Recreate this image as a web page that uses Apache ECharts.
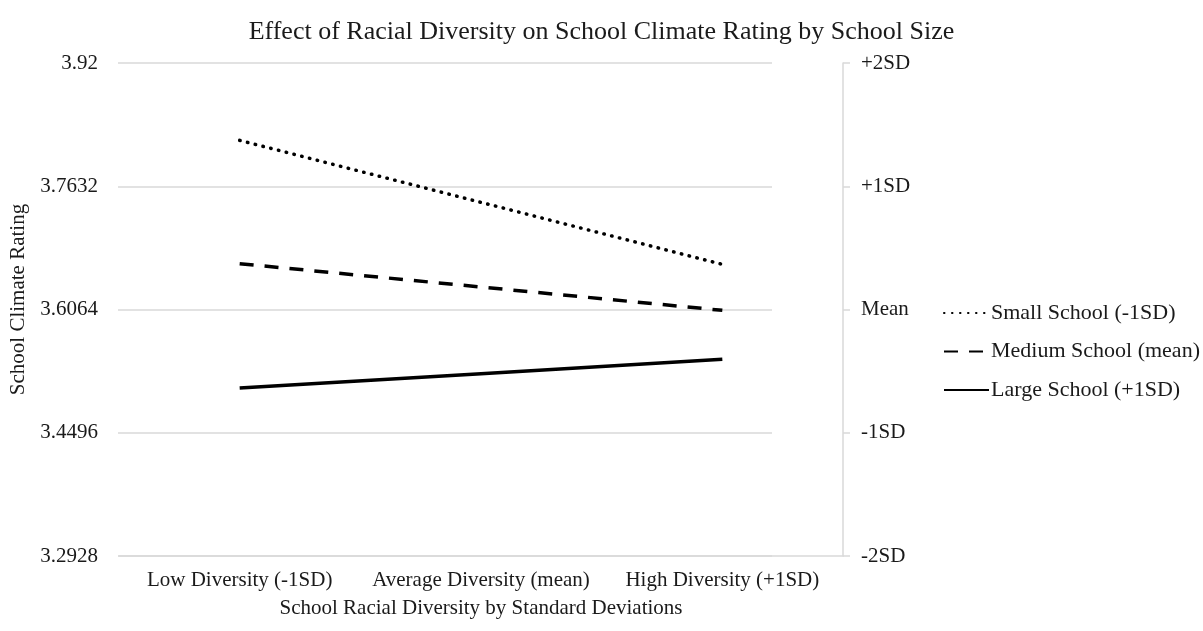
<!DOCTYPE html>
<html>
<head>
<meta charset="utf-8">
<script src="https://cdn.jsdelivr.net/npm/echarts@6/dist/echarts.min.js"></script>
<style>
html, body { margin: 0; padding: 0; background: #fff; }
#chart { width: 1203px; height: 631px; }
</style>
</head>
<body>
<div id="chart"></div>
<script>
// categories along the x axis
var categories = ['Low Diversity (-1SD)', 'Average Diversity (mean)', 'High Diversity (+1SD)']
// left axis tick labels, bottom to top
var leftTicks = ['3.2928', '3.4496', '3.6064', '3.7632', '3.92']
// right axis labels, bottom to top
var rightTicks = ['-2SD', '-1SD', 'Mean', '+1SD', '+2SD']
// series values
var smallSchool = [3.8216, 3.7427, 3.6638]
var mediumSchool = [3.6647, 3.6350, 3.6053]
var largeSchool = [3.5064, 3.5247, 3.5430]

var font = '"Liberation Serif", "Times New Roman", serif'
var txt = '#1a1a1a'
var gridColor = '#d9d9d9'
var fs = 21

var chart = echarts.init(document.getElementById('chart'))
chart.setOption({
    backgroundColor: '#fff',
    animation: false,
    textStyle: { fontFamily: font },
    title: {
        text: 'Effect of Racial Diversity on School Climate Rating by School Size',
        left: 'center',
        top: 14,
        textStyle: { fontFamily: font, fontSize: 26, fontWeight: 'normal', color: txt }
    },
    legend: {
        orient: 'vertical',
        left: 938,
        top: 297,
        itemWidth: 45,
        itemHeight: 14,
        itemGap: 16.5,
        itemStyle: { opacity: 0 },
        textStyle: { fontFamily: font, fontSize: 22, color: txt, padding: [0, 0, 0, -3] },
        data: ['Small School (-1SD)', 'Medium School (mean)', 'Large School (+1SD)']
    },
    grid: [
        { left: 118, right: 360, top: 63, bottom: 75 },
        { left: 118, right: 431, top: 63, bottom: 75 }
    ],
    xAxis: [
        {
            type: 'category',
            gridIndex: 0,
            data: categories,
            boundaryGap: true,
            axisLine: { lineStyle: { color: gridColor, width: 1.5 } },
            axisTick: { show: false },
            axisLabel: { fontFamily: font, fontSize: fs, color: txt, margin: 14, interval: 0 },
            name: 'School Racial Diversity by Standard Deviations',
            nameLocation: 'middle',
            nameGap: 42,
            nameTextStyle: { fontFamily: font, fontSize: fs, color: txt }
        },
        {
            type: 'category',
            gridIndex: 1,
            data: categories,
            show: false
        }
    ],
    yAxis: [
        {
            type: 'value',
            gridIndex: 0,
            min: 3.2928,
            max: 3.92,
            interval: 0.1568,
            splitLine: { show: false },
            axisLine: { show: false },
            axisTick: { show: false },
            axisLabel: {
                fontFamily: font, fontSize: fs, color: txt, margin: 21,
                formatter: function (v, i) { return leftTicks[i] }
            },
            name: 'School Climate Rating',
            nameLocation: 'middle',
            nameGap: 90,
            nameTextStyle: { fontFamily: font, fontSize: fs, color: txt, padding: [0, 0, 0, 20] }
        },
        {
            type: 'value',
            gridIndex: 0,
            position: 'right',
            min: 0,
            max: 4,
            interval: 1,
            splitLine: { show: false },
            axisLine: { show: true, lineStyle: { color: gridColor, width: 1.5 } },
            axisTick: { show: true, length: 7, lineStyle: { color: gridColor, width: 1.5 } },
            axisLabel: {
                fontFamily: font, fontSize: fs, color: txt, margin: 18,
                formatter: function (v, i) { return rightTicks[i] }
            }
        },
        {
            type: 'value',
            gridIndex: 1,
            min: 3.2928,
            max: 3.92,
            interval: 0.1568,
            axisLine: { show: false },
            axisTick: { show: false },
            axisLabel: { show: false },
            splitLine: { show: true, lineStyle: { color: gridColor, width: 1.5 } }
        }
    ],
    series: [
        {
            name: 'Small School (-1SD)',
            type: 'line',
            xAxisIndex: 0,
            yAxisIndex: 0,
            symbol: 'none',
            data: smallSchool,
            lineStyle: { color: '#000', width: 3.5, type: [0.5, 7.5], cap: 'round' },
            itemStyle: { color: '#000', opacity: 0 }
        },
        {
            name: 'Medium School (mean)',
            type: 'line',
            xAxisIndex: 0,
            yAxisIndex: 0,
            symbol: 'none',
            data: mediumSchool,
            lineStyle: { color: '#000', width: 3.5, type: [14, 11] },
            itemStyle: { color: '#000', opacity: 0 }
        },
        {
            name: 'Large School (+1SD)',
            type: 'line',
            xAxisIndex: 0,
            yAxisIndex: 0,
            symbol: 'none',
            data: largeSchool,
            lineStyle: { color: '#000', width: 3.5 },
            itemStyle: { color: '#000', opacity: 0 }
        }
    ]
})
</script>
</body>
</html>
